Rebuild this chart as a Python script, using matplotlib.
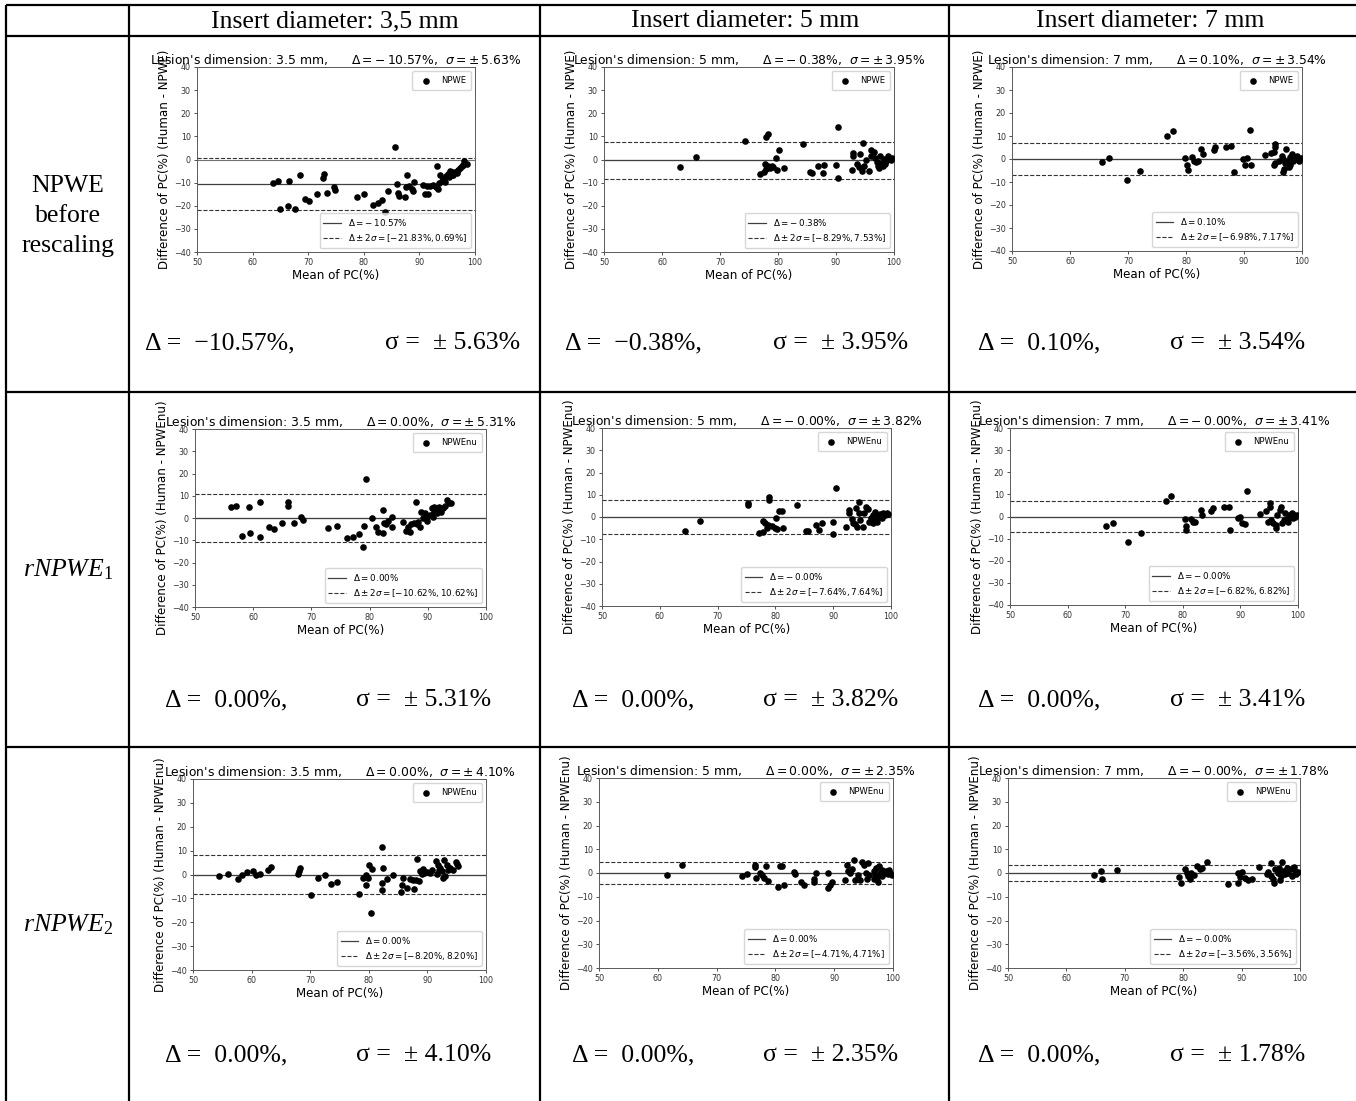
"""
Bland-Altman comparison table: human vs NPWE observer, before and after
rescaling, for three insert diameters.
"""

import numpy as np
import matplotlib.pyplot as plt
from matplotlib.lines import Line2D

W, H = 1356, 1101

# --- data (mean of PC, difference of PC) ---
npwe_35 = [(63.7, -10.2), (64.6, -9.4), (65.0, -21.5), (66.5, -9.5), (66.3, -20.2),
           (67.7, -21.3), (68.6, -6.8), (69.5, -17.1), (70.1, -17.9), (71.5, -14.8),
           (72.8, -6.2), (72.7, -7.8), (73.4, -14.7), (74.6, -12.0), (74.9, -13.1),
           (78.7, -16.0), (80.1, -14.8), (81.6, -19.5), (82.5, -19.0), (83.3, -17.7),
           (83.8, -22.5), (84.4, -13.8), (85.6, 5.3), (85.9, -10.4), (86.2, -14.6),
           (86.3, -15.9), (87.4, -16.3), (87.7, -6.9), (87.6, -12.1), (88.2, -11.5),
           (88.6, -12.8), (88.9, -13.8), (89.0, -9.7), (90.7, -11.0), (91.0, -14.8),
           (91.3, -11.5), (91.6, -15.0), (91.9, -11.5), (92.5, -11.2), (93.0, -11.7),
           (93.1, -2.6), (93.3, -12.7), (93.6, -10.2), (93.7, -6.5), (94.0, -9.1),
           (94.3, -8.4), (94.6, -9.8), (94.8, -7.3), (95.2, -6.2), (95.5, -4.8),
           (95.8, -5.5), (96.1, -6.5), (96.4, -5.2), (96.7, -5.9), (97.0, -4.5),
           (97.3, -3.7), (97.6, -3.0), (97.9, -2.2), (98.0, -0.7), (98.5, -1.9),
           (95.3, -7.6), (95.9, -6.9)]

npwe_5 = [(63.1, -3.3), (65.8, 1.0), (74.3, 8.2), (78.0, 9.7), (78.2, 11.1),
          (76.9, -6.2), (77.5, -5.5), (77.8, -1.9), (78.0, -4.0), (78.3, -3.0),
          (78.6, -3.7), (78.9, -2.6), (79.2, -3.3), (79.6, 0.7), (79.9, -4.5),
          (80.2, 4.2), (81.0, -3.7), (84.3, 6.5), (85.5, -5.5), (85.8, -5.8),
          (86.9, -3.0), (87.7, -5.9), (88.0, -2.3), (90.0, -2.2), (90.3, 14.0),
          (90.3, -8.1), (92.7, -4.5), (93.0, 2.7), (93.0, 1.7), (93.6, -1.9),
          (93.9, -3.3), (94.2, 2.4), (94.5, -4.8), (94.7, 7.1), (94.8, -2.6),
          (95.1, -0.4), (95.7, -4.8), (96.0, 1.7), (96.0, 4.2), (96.6, 3.2),
          (96.7, 0.7), (97.0, -1.2), (97.3, -2.6), (97.6, 1.7), (97.9, -1.6),
          (98.1, -3.0), (98.3, 0.3), (98.6, -0.7), (98.9, 1.3), (99.2, 0.3),
          (99.5, -0.1), (99.7, 0.7), (97.4, -3.6), (98.5, -1.9)]

npwe_7 = [(65.5, -1.4), (66.8, 0.3), (69.8, -9.0), (72.0, -5.1), (76.8, 9.9),
          (77.7, 12.3), (79.9, 0.3), (80.1, -2.6), (80.3, -4.8), (81.0, 0.7),
          (81.3, -1.0), (81.7, -1.2), (82.1, -0.7), (82.5, 4.5), (82.9, 2.2),
          (84.8, 4.1), (85.0, 5.2), (86.9, 5.4), (87.8, 5.8), (88.2, -5.8),
          (89.9, 0.0), (90.5, 0.4), (90.2, -2.6), (91.0, 12.6), (91.2, -2.6),
          (93.6, 1.7), (94.6, 2.6), (95.2, 2.9), (95.4, 6.5), (95.4, 5.1),
          (95.1, -2.6), (95.4, -1.9), (96.0, -1.0), (96.5, 1.4), (96.8, 0.0),
          (96.7, -5.5), (96.9, -4.3), (97.1, -1.9), (97.3, 4.3), (97.7, -3.3),
          (98.0, -2.6), (98.3, 2.2), (98.4, -1.0), (98.6, 0.7), (98.9, 0.0),
          (99.2, 1.4), (99.5, -0.7), (97.4, -0.7), (98.0, 0.7), (99.8, 0.3)]

r1_35 = [(56.1, 4.8), (57.0, 5.4), (58.1, -8.1), (59.2, 4.8), (59.5, -6.6),
         (61.2, 7.4), (61.1, -8.4), (62.8, -4.2), (63.5, -4.8), (64.9, -2.1),
         (65.9, 7.4), (65.9, 5.4), (67.0, -2.1), (68.2, 0.3), (68.5, -0.9),
         (72.9, -4.7), (74.4, -3.6), (76.1, -9.2), (77.2, -8.4), (78.1, -7.4),
         (78.8, -12.9), (79.1, -3.6), (79.4, 17.4), (80.4, 0.0), (81.1, -3.9),
         (81.4, -6.2), (82.3, -6.9), (82.3, 3.6), (82.5, -2.4), (82.9, -2.7),
         (83.1, -1.2), (83.8, -4.2), (83.8, 0.3), (85.8, -1.7), (86.2, -5.9),
         (86.6, -3.9), (87.0, -6.2), (87.1, -2.7), (87.6, -2.4), (87.9, 7.4),
         (88.1, -2.7), (88.4, -1.7), (88.7, -3.9), (88.8, 2.9), (89.2, -0.2),
         (89.6, 2.1), (89.8, 0.6), (89.9, -1.2), (90.3, 1.4), (90.7, 4.4),
         (90.9, 0.6), (91.1, 2.9), (91.5, 2.1), (91.7, 3.6), (92.0, 5.1),
         (92.3, 2.9), (92.6, 4.4), (93.0, 5.4), (93.3, 8.1), (93.6, 6.6),
         (94.0, 6.6), (91.0, 5.1)]

r1_5 = [(64.3, -6.3), (66.9, -1.8), (75.2, 6.5), (75.2, 5.4), (77.2, -7.4),
        (77.9, -6.6), (77.9, -1.8), (78.2, -2.9), (78.5, -5.1), (78.8, -3.6),
        (78.9, 8.9), (78.9, 7.7), (79.4, -4.1), (80.0, -4.8), (80.1, -0.6),
        (80.3, -5.6), (80.7, 2.7), (81.1, 2.7), (81.3, -4.8), (83.8, 5.4),
        (85.3, -6.2), (85.7, -6.3), (87.0, -3.6), (87.6, -5.9), (88.0, -2.6),
        (89.9, -2.3), (89.9, -7.8), (90.5, 13.2), (92.3, -4.4), (92.7, 3.2),
        (92.7, 2.0), (93.2, -1.1), (93.5, -2.6), (93.8, -3.2), (93.9, 3.9),
        (94.1, -4.4), (94.4, 6.9), (94.4, 1.7), (94.6, -1.4), (95.2, -4.4),
        (95.4, 2.0), (95.7, 4.7), (96.0, 3.5), (96.2, -2.1), (96.5, -0.6),
        (96.8, 0.9), (97.1, -1.4), (97.2, 2.4), (97.5, -2.1), (97.8, 0.2),
        (98.1, 1.2), (98.4, -0.6), (98.7, 1.7), (99.0, 0.9), (99.3, 1.7),
        (99.5, 1.2), (96.9, -2.9)]

r1_7 = [(66.6, -4.5), (67.9, -3.0), (70.5, -11.3), (72.8, -7.5), (77.0, 7.2),
        (78.0, 9.4), (80.3, -1.2), (80.5, -4.2), (80.6, -6.0), (81.5, -1.2),
        (81.8, -2.7), (82.2, -2.7), (83.1, 3.0), (83.4, 0.8), (84.9, 2.6),
        (85.3, 3.8), (87.2, 4.2), (88.0, 4.5), (88.2, -6.0), (89.6, -0.8),
        (90.0, -0.3), (90.2, -3.0), (90.8, -3.3), (91.2, 11.3), (93.4, 1.2),
        (94.5, 2.6), (94.8, -2.3), (95.1, 6.0), (95.1, 4.5), (95.3, -1.5),
        (95.7, -3.0), (96.1, -5.3), (96.2, -3.8), (96.4, 0.8), (96.8, 3.0),
        (97.0, 4.2), (97.2, -3.0), (97.6, -1.5), (97.8, 1.5), (98.2, -0.8),
        (98.4, 0.8), (98.7, 0.0), (99.0, 1.5), (99.3, 0.8), (99.5, 0.0),
        (99.8, 0.8), (98.3, -2.3), (99.1, -0.8)]

r2_35 = [(54.4, -0.8), (56.0, 0.4), (57.7, -1.8), (58.4, -0.1), (59.2, 1.0),
         (60.3, 1.5), (60.7, -0.1), (61.4, 0.4), (62.8, 2.0), (63.3, 3.1),
         (68.0, 0.3), (68.2, 2.9), (68.1, 1.3), (70.1, -8.7), (71.4, -1.5),
         (72.6, -0.1), (73.5, -3.9), (74.5, -3.1), (78.4, -8.1), (79.0, -1.3),
         (79.5, -4.3), (79.6, -0.1), (79.8, -1.3), (80.0, 4.1), (80.4, -16.1),
         (80.6, 2.1), (82.3, 11.7), (82.3, -3.4), (82.3, -6.7), (82.5, 2.9),
         (83.1, -2.0), (84.2, -0.1), (85.5, -7.4), (85.6, -4.3), (85.8, -1.5),
         (86.5, -5.7), (87.0, -1.8), (87.6, -2.1), (87.7, -6.0), (88.1, -2.2),
         (88.3, 6.6), (88.5, -2.7), (88.8, 1.3), (89.0, 0.1), (89.2, 2.2),
         (89.5, 0.6), (89.9, 1.0), (90.5, 0.6), (90.8, 2.0), (91.5, 5.5),
         (91.8, 3.8), (91.9, 2.0), (92.2, 2.9), (92.5, 1.3), (92.6, -1.5),
         (92.8, 6.2), (93.0, -0.8), (93.3, 4.1), (93.6, 2.0), (93.9, 2.7),
         (94.4, 2.0), (94.8, 5.2), (95.0, 4.3), (95.3, 3.6), (91.6, 0.1)]

r2_5 = [(61.6, -0.7), (64.1, 3.5), (74.3, -1.4), (75.2, -0.4), (76.6, 3.5),
        (76.6, 2.5), (76.7, -2.1), (77.3, 0.0), (77.7, -0.7), (78.1, -2.1),
        (78.4, 2.8), (78.7, -3.2), (80.4, -5.9), (80.8, 2.8), (81.2, 2.8),
        (81.5, -4.9), (83.2, 0.3), (83.4, -0.4), (84.4, -3.8), (84.8, -4.9),
        (86.5, -2.5), (86.6, -3.8), (86.9, 0.0), (88.9, 0.0), (89.0, -6.3),
        (89.3, -4.9), (89.6, -3.9), (91.8, -2.8), (92.2, 3.5), (92.3, 0.7),
        (92.7, 0.0), (93.0, 1.8), (93.3, 5.6), (93.6, -2.8), (94.0, -0.7),
        (94.4, -2.8), (94.8, 4.6), (95.1, 3.5), (95.4, 0.0), (95.6, -2.4),
        (95.7, 4.2), (96.0, -0.7), (96.7, 0.7), (96.9, -1.0), (97.1, 2.1),
        (97.3, -2.1), (97.4, -3.8), (97.6, 2.8), (97.8, 0.0), (98.1, 1.4),
        (98.2, -1.4), (98.6, 0.0), (98.8, 1.0), (99.1, -0.4), (99.4, 1.4),
        (99.5, 0.0), (99.8, -0.7), (96.7, -2.4)]

r2_7 = [(64.7, -0.8), (66.0, 0.8), (66.1, -2.4), (68.6, 1.3), (79.3, -1.7),
        (79.6, -4.1), (80.3, 1.6), (80.6, 0.1), (80.9, -1.3), (81.1, -2.7),
        (81.3, 0.1), (81.9, -0.8), (82.3, 3.0), (82.9, 1.6), (83.3, 2.3),
        (84.1, 4.7), (87.6, -4.5), (89.3, -4.1), (89.4, 0.1), (89.8, -1.7),
        (90.1, 0.6), (90.6, -2.0), (91.1, -3.1), (91.7, -2.7), (93.0, 2.7),
        (94.3, -0.6), (94.6, 0.6), (95.0, 4.1), (95.1, -1.3), (95.4, -2.7),
        (95.6, -4.1), (95.8, 1.6), (96.2, 0.1), (96.4, 2.3), (96.7, -1.3),
        (96.9, 4.7), (97.1, 0.8), (97.4, -0.6), (97.7, 2.3), (98.0, 0.1),
        (98.3, 1.6), (98.6, -1.3), (98.9, 2.6), (99.1, 0.8), (99.4, -0.6),
        (99.7, 0.6), (96.6, -3.1)]

# summary per panel: mean difference, lower / upper limit, sigma
col_dims = ["3.5", "5", "7"]
col_headers = ["Insert diameter: 3,5 mm", "Insert diameter: 5 mm", "Insert diameter: 7 mm"]
row_labels = ["NPWE\nbefore\nrescaling", r"$rNPWE_{\mathit{1}}$", r"$rNPWE_{\mathit{2}}$"]
row_models = ["NPWE", "NPWEnu", "NPWEnu"]
points = [[npwe_35, npwe_5, npwe_7],
          [r1_35, r1_5, r1_7],
          [r2_35, r2_5, r2_7]]
mean_diff = [["-10.57", "-0.38", "0.10"],
             ["0.00", "-0.00", "-0.00"],
             ["0.00", "0.00", "-0.00"]]
low_lim = [[-21.83, -8.29, -6.98],
           [-10.62, -7.64, -6.82],
           [-8.20, -4.71, -3.56]]
high_lim = [[0.69, 7.53, 7.17],
            [10.62, 7.64, 6.82],
            [8.20, 4.71, 3.56]]
sigmas = [["5.63", "3.95", "3.54"],
          ["5.31", "3.82", "3.41"],
          ["4.10", "2.35", "1.78"]]
table_delta = [["\u221210.57%", "\u22120.38%", "0.10%"],
               ["0.00%", "0.00%", "0.00%"],
               ["0.00%", "0.00%", "0.00%"]]

# --- layout (pixels) ---
axes_boxes = [[(197, 67, 475, 252), (604, 67, 894, 252), (1012, 67, 1302, 251)],
              [(195, 429, 486, 607), (602, 428, 891, 606), (1010, 428, 1298, 605)],
              [(193, 779, 486, 970), (599, 778, 893, 968), (1008, 778, 1300, 968)]]
delta_x = [[145, 565, 978], [165, 572, 978], [165, 572, 978]]
sigma_x = [[385, 773, 1170], [356, 763, 1170], [356, 763, 1170]]
stat_y = [343, 700, 1055]
row_label_y = [216, 570, 925]
header_x = [335, 745, 1150]
v_lines = [6, 129, 540, 949]
h_lines = [5, 36, 392, 747]

plt.rcParams["mathtext.it"] = "Liberation Serif:italic"
plt.rcParams["mathtext.rm"] = "Liberation Serif"


def math_val(s):
    # negative values are shown with a binary-style minus: "- 10.57"
    if s.startswith("-"):
        return "-\\, " + s[1:]
    return s


fig = plt.figure(figsize=(W / 100, H / 100), dpi=100)
bg = fig.add_axes([0, 0, 1, 1], zorder=-1)
bg.set_xlim(0, W)
bg.set_ylim(H, 0)
bg.axis("off")

for x in v_lines:
    bg.plot([x, x], [h_lines[0], H], color="black", lw=1.6, solid_capstyle="butt")
for y in h_lines:
    bg.plot([v_lines[0], W], [y, y], color="black", lw=1.6, solid_capstyle="butt")

serif = "Liberation Serif"
for j, txt in enumerate(col_headers):
    bg.text(header_x[j], 21, txt, ha="center", va="center", fontsize=18.5, family=serif)
for i, txt in enumerate(row_labels):
    bg.text(68, row_label_y[i], txt, ha="center", va="center", fontsize=18.5,
            family=serif, linespacing=1.45, math_fontfamily="custom")

for i in range(3):
    for j in range(3):
        l, t, r, b = axes_boxes[i][j]
        ax = fig.add_axes([l / W, 1 - b / H, (r - l) / W, (b - t) / H])
        xy = np.array(points[i][j])
        m = float(mean_diff[i][j])
        mv = math_val(mean_diff[i][j])
        sc = ax.scatter(xy[:, 0], xy[:, 1], s=14, c="black", label=row_models[i], zorder=3)
        ax.axhline(0, color="0.45", lw=0.8)
        ax.axhline(m, color="0.25", lw=0.9)
        ax.axhline(low_lim[i][j], color="0.2", lw=0.8, ls="--")
        ax.axhline(high_lim[i][j], color="0.2", lw=0.8, ls="--")
        ax.set_xlim(50, 100)
        ax.set_ylim(-40, 40)
        ax.set_xticks(range(50, 101, 10))
        ax.set_yticks(range(-40, 41, 10))
        ax.tick_params(labelsize=5.8, length=2.5, width=0.6, pad=2, colors="0.2")
        for sp in ax.spines.values():
            sp.set_color("0.35")
            sp.set_linewidth(0.7)
        ax.set_xlabel("Mean of PC(%)", fontsize=8.6, labelpad=1)
        ax.set_ylabel(f"Difference of PC(%) (Human - {row_models[i]})", fontsize=8.6, labelpad=2)
        ax.set_title(f"Lesion's dimension: {col_dims[j]} mm,      "
                     f"$\\Delta = {mv}\\%$,  $\\sigma = \\pm\\, {sigmas[i][j]}\\%$",
                     fontsize=8.9, pad=2)
        leg1 = ax.legend(handles=[sc], loc="upper right", fontsize=6, borderpad=0.6)
        ax.add_artist(leg1)
        h_mean = Line2D([], [], color="0.25", lw=0.9)
        h_lim = Line2D([], [], color="0.2", lw=0.8, ls="--")
        ax.legend([h_mean, h_lim],
                  [f"$\\Delta = {mv}\\%$",
                   f"$\\Delta \\pm 2\\sigma = [{low_lim[i][j]:.2f}\\%, {high_lim[i][j]:.2f}\\%]$"],
                  loc="lower right", fontsize=6.3)

        bg.text(delta_x[i][j], stat_y[i], f"\u0394 =  {table_delta[i][j]},",
                ha="left", va="center", fontsize=18.5, family=serif)
        bg.text(sigma_x[i][j], stat_y[i], f"\u03c3 =  \u00b1 {sigmas[i][j]}%",
                ha="left", va="center", fontsize=18.5, family=serif)

fig.savefig("out.png", dpi=100)
